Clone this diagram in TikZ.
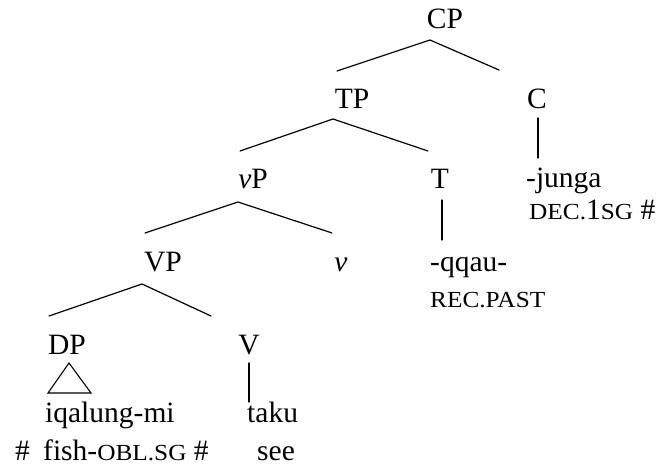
\documentclass[tikz,border=0pt]{standalone}
\usepackage{fontspec}
\usepackage{graphicx}
\setmainfont{Liberation Serif}
\usetikzlibrary{calc}
% faked small capitals for the gloss abbreviations
\newcommand\glsc[1]{\scalebox{1.1}[1]{\fontsize{23}{23}\selectfont #1}}
\begin{document}
\begin{tikzpicture}[x=1pt,y=-1pt,
  every node/.style={inner sep=0pt, font=\fontsize{29.5}{35}\selectfont},
  cat/.style={anchor=base},
  word/.style={anchor=base west},
  branch/.style={line width=1.2pt, line cap=round}]
\useasboundingbox (0,0) rectangle (657,476);

% category labels
\node[cat] (CP) at (445,29) {CP};
\node[cat] (TP) at (352,109) {TP};
\node[cat] (C)  at (537,109) {C};
\node[cat] (vP) at (253,189) {\textit{v}P};
\node[cat] (T)  at (440,189) {T};
\node[cat] (VP) at (163,272) {VP};
\node[cat] (v)  at (341,272) {\textit{v}};
\node[cat] (DP) at (67,355) {DP};
\node[cat] (V)  at (249,355) {V};

% terminal words and glosses
\node[word] (iq)    at (45,422)  {iqalung-mi};
\node[word] (fish)  at (15,460)  {\#\hspace{0.45em}fish-\glsc{OBL.SG} \#};
\node[word] (taku)  at (247,422) {taku};
\node[word] (see)   at (257,460) {see};
\node[word] (qqau)  at (430,272) {-qqau-};
\node[word] (rec)   at (430,308) {\glsc{REC.PAST}};
\node[word] (junga) at (526,188) {-junga};
\node[word] (dec)   at (529,220) {\glsc{DEC.}1\glsc{SG} \#};

% branches
\draw[branch] ($(TP.base)+(-15,-38)$) -- ($(CP.base)+(-15,11)$) -- ($(C.base)+(-38,-39)$);
\draw[branch] ($(vP.base)+(-13,-38)$) -- ($(TP.base)+(-19,10)$) -- ($(T.base)+(-12,-38)$);
\draw[branch] ($(VP.base)+(-18,-39)$) -- ($(vP.base)+(-15,13)$) -- ($(v.base)+(-9,-39)$);
\draw[branch] ($(DP.base)+(-18,-39)$) -- ($(VP.base)+(-21,12)$) -- ($(V.base)+(-38,-39)$);

% unary stems
\draw[branch] ($(C.base)+(1,9)$) -- ($(junga.base west)+(12,-30)$);
\draw[branch] ($(T.base)+(2,11)$) -- ($(qqau.base west)+(12,-32)$);
\draw[branch] ($(V.base)+(0,8)$) -- ($(taku.base west)+(2,-20)$);

% roof over the DP
\draw[line width=1.1pt, line join=miter] ($(DP.base)+(2,8)$) -- ($(DP.base)+(-19,38)$) -- ($(DP.base)+(24,38)$) -- cycle;
\end{tikzpicture}
\end{document}
